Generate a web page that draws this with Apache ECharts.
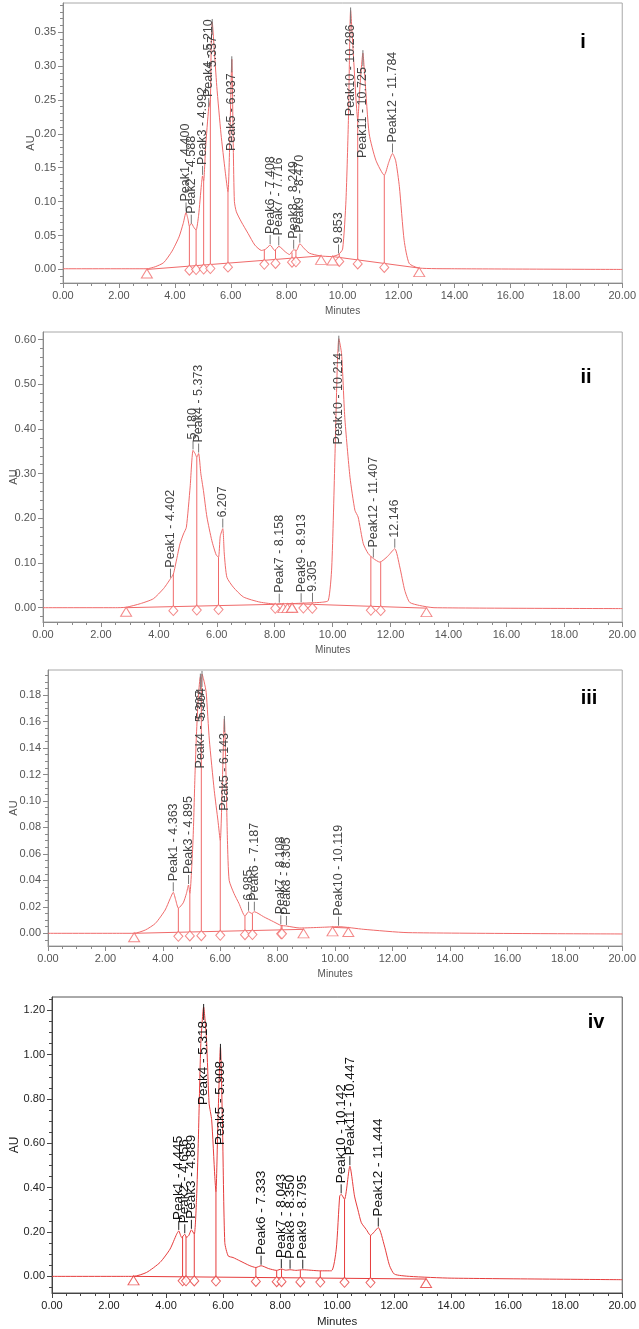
<!DOCTYPE html>
<html>
<head>
<meta charset="utf-8">
<script src="https://cdn.jsdelivr.net/npm/echarts@6/dist/echarts.min.js"></script>
<style>
  html, body { margin: 0; padding: 0; background: #fff; }
  #main { width: 639px; height: 1329px; }
</style>
</head>
<body>
<div id="main"></div>
<script>
// ---- panel i ----
const traceI = [[0,0.001],[2.5,0.001],[3.0,0.001],[3.3,0.004],[3.6,0.010],[3.9,0.027],[4.15,0.048],[4.3,0.068],[4.40,0.084],[4.47,0.074],[4.52,0.064],[4.59,0.068],[4.68,0.062],[4.76,0.058],[4.85,0.08],[4.95,0.125],[4.99,0.138],[5.03,0.13],[5.1,0.18],[5.21,0.238],[5.27,0.25],[5.30,0.33],[5.337,0.365],[5.4,0.33],[5.5,0.27],[5.65,0.20],[5.8,0.145],[5.9,0.114],[5.97,0.2],[6.037,0.31],[6.09,0.18],[6.13,0.10],[6.2,0.085],[6.38,0.07],[6.62,0.053],[6.86,0.036],[7.1,0.028],[7.25,0.03],[7.41,0.036],[7.57,0.028],[7.72,0.034],[7.95,0.026],[8.1,0.022],[8.25,0.029],[8.35,0.028],[8.47,0.038],[8.6,0.032],[8.81,0.024],[9.2,0.02],[9.6,0.019],[9.85,0.022],[10.0,0.03],[10.12,0.102],[10.21,0.225],[10.286,0.382],[10.38,0.32],[10.48,0.25],[10.54,0.22],[10.62,0.27],[10.725,0.319],[10.8,0.28],[10.95,0.20],[11.19,0.161],[11.49,0.139],[11.65,0.158],[11.784,0.171],[11.9,0.16],[12.03,0.122],[12.2,0.043],[12.38,0.009],[12.74,0.002],[14,0.001],[20,0.0]];
const namesI = ["Peak1 - 4.400","Peak2 - 4.588","Peak3 - 4.992","Peak4 - 5.210","5.337","Peak5 - 6.037","Peak6 - 7.408","Peak7 - 7.716","Peak8 - 8.249","Peak9 - 8.470","9.853","Peak10 - 10.286","Peak11 - 10.725","Peak12 - 11.784"];
const timesI = [4.400,4.588,4.992,5.210,5.337,6.037,7.408,7.716,8.249,8.470,9.853,10.286,10.725,11.784];
const heightsI = [0.084,0.066,0.138,0.238,0.365,0.31,0.036,0.034,0.029,0.038,0.022,0.382,0.319,0.171];
const dropsI = [[4.52,0.064],[4.76,0.058],[5.03,0.13],[5.27,0.25],[5.9,0.114],[7.2,0.029],[7.6,0.029],[8.19,0.025],[8.33,0.028],[9.88,0.023],[10.54,0.22],[11.49,0.139]];
const baseI = [[3.0,0.0,9.23,0.02],[9.64,0.019,12.74,0.002]];
const yTicksI = [0,0.05,0.10,0.15,0.20,0.25,0.30,0.35];

// ---- panel ii ----
const traceII = [[0,0.0],[2.5,0.0],[2.87,0.001],[3.36,0.009],[3.81,0.02],[4.16,0.0425],[4.30,0.055],[4.402,0.065],[4.5,0.075],[4.62,0.11],[4.73,0.143],[4.85,0.165],[4.95,0.18],[5.08,0.27],[5.18,0.352],[5.25,0.345],[5.31,0.337],[5.373,0.345],[5.45,0.30],[5.54,0.262],[5.66,0.203],[5.83,0.15],[5.98,0.118],[6.06,0.113],[6.12,0.16],[6.207,0.177],[6.26,0.12],[6.35,0.068],[6.57,0.046],[6.92,0.024],[7.49,0.0125],[8.07,0.008],[8.158,0.009],[8.5,0.009],[8.913,0.01],[9.305,0.011],[9.6,0.012],[9.85,0.016],[9.97,0.091],[10.08,0.337],[10.16,0.538],[10.214,0.602],[10.31,0.568],[10.42,0.426],[10.6,0.292],[10.77,0.218],[10.88,0.203],[11.06,0.143],[11.23,0.121],[11.407,0.11],[11.63,0.102],[11.9,0.115],[12.146,0.132],[12.32,0.091],[12.49,0.039],[12.66,0.012],[13.0,0.005],[13.5,0.0],[20,-0.002]];
const namesII = ["Peak1 - 4.402","5.180","Peak4 - 5.373","6.207","Peak7 - 8.158","Peak9 - 8.913","9.305","Peak10 - 10.214","Peak12 - 11.407","12.146"];
const timesII = [4.402,5.180,5.373,6.207,8.158,8.913,9.305,10.214,11.407,12.146];
const heightsII = [0.065,0.352,0.345,0.177,0.009,0.01,0.011,0.602,0.11,0.132];
const dropsII = [[4.5,0.075],[5.31,0.337],[6.06,0.113],[8.02,0.008],[8.99,0.01],[9.3,0.011],[11.32,0.115],[11.66,0.102]];
const baseII = [[2.87,0.0,8.3,0.008],[8.44,0.008,8.6,0.009],[8.6,0.009,13.24,-0.001]];
const yTicksII = [0,0.1,0.2,0.3,0.4,0.5,0.6];

// ---- panel iii ----
const traceIII = [[0,0.0],[2.5,0.0],[3.0,0.0],[3.39,0.0025],[3.74,0.0075],[4.08,0.0176],[4.25,0.026],[4.363,0.031],[4.45,0.025],[4.54,0.019],[4.71,0.023],[4.82,0.03],[4.895,0.0365],[4.94,0.03],[5.05,0.07],[5.12,0.12],[5.17,0.15],[5.24,0.18],[5.307,0.194],[5.34,0.19],[5.364,0.196],[5.44,0.19],[5.51,0.182],[5.62,0.146],[5.79,0.108],[5.92,0.085],[6.0,0.07],[6.08,0.12],[6.143,0.162],[6.2,0.12],[6.25,0.07],[6.31,0.04],[6.48,0.03],[6.65,0.0226],[6.86,0.013],[6.985,0.0163],[7.1,0.015],[7.187,0.0163],[7.51,0.0125],[7.85,0.0088],[8.108,0.006],[8.305,0.0055],[8.77,0.004],[9.5,0.0045],[10.119,0.005],[11,0.003],[12.54,0.0005],[20,-0.0005]];
const namesIII = ["Peak1 - 4.363","Peak3 - 4.895","Peak4 - 5.307","5.364","Peak5 - 6.143","6.985","Peak6 - 7.187","Peak7 - 8.108","Peak8 - 8.305","Peak10 - 10.119"];
const timesIII = [4.363,4.895,5.307,5.364,6.143,6.985,7.187,8.108,8.305,10.119];
const heightsIII = [0.031,0.0365,0.194,0.196,0.162,0.0163,0.0163,0.006,0.0055,0.005];
const dropsIII = [[4.54,0.019],[4.94,0.03],[5.34,0.19],[6.0,0.07],[6.86,0.013],[7.12,0.015],[8.12,0.006],[8.15,0.006]];
const baseIII = [[3.0,0.0,8.9,0.003],[9.91,0.0045,10.46,0.004]];
const yTicksIII = [0,0.02,0.04,0.06,0.08,0.10,0.12,0.14,0.16,0.18];

// ---- panel iv ----
const traceIV = [[0,0.0],[2.5,0.0],[2.86,0.0],[3.32,0.018],[3.79,0.063],[4.14,0.123],[4.37,0.19],[4.445,0.205],[4.55,0.175],[4.656,0.19],[4.72,0.176],[4.80,0.185],[4.889,0.21],[4.99,0.19],[5.07,0.35],[5.13,0.6],[5.22,1.05],[5.318,1.215],[5.42,1.065],[5.51,0.78],[5.6,0.706],[5.71,0.45],[5.75,0.38],[5.82,0.7],[5.908,1.035],[5.98,0.676],[6.06,0.153],[6.18,0.092],[6.35,0.085],[6.59,0.07],[6.94,0.048],[7.15,0.04],[7.333,0.048],[7.6,0.035],[7.88,0.027],[8.043,0.033],[8.2,0.028],[8.35,0.03],[8.55,0.027],[8.795,0.03],[9.39,0.025],[9.8,0.025],[9.97,0.123],[10.09,0.362],[10.142,0.37],[10.26,0.347],[10.447,0.497],[10.61,0.362],[10.73,0.30],[10.85,0.242],[11.02,0.212],[11.17,0.185],[11.444,0.22],[11.66,0.137],[11.84,0.048],[12.01,0.01],[12.54,0.0],[14,-0.008],[20,-0.015]];
const namesIV = ["Peak1 - 4.445","Peak2 - 4.656","Peak3 - 4.889","Peak4 - 5.318","Peak5 - 5.908","Peak6 - 7.333","Peak7 - 8.043","Peak8 - 8.350","Peak9 - 8.795","Peak10 - 10.142","Peak11 - 10.447","Peak12 - 11.444"];
const timesIV = [4.445,4.656,4.889,5.318,5.908,7.333,8.043,8.350,8.795,10.142,10.447,11.444];
const heightsIV = [0.205,0.19,0.21,1.215,1.035,0.048,0.033,0.03,0.03,0.37,0.497,0.22];
const dropsIV = [[4.58,0.178],[4.70,0.18],[4.99,0.19],[5.75,0.38],[7.15,0.04],[7.88,0.027],[8.05,0.033],[8.71,0.028],[9.41,0.025],[10.26,0.347],[11.17,0.185]];
const baseIV = [[2.86,0.0,13.12,-0.012]];
const yTicksIV = [0,0.2,0.4,0.6,0.8,1.0,1.2];

const xTicks = [0,2,4,6,8,10,12,14,16,18,20];

const measureCtx = document.createElement("canvas").getContext("2d");
function textWidth(txt, font) {
  measureCtx.font = font;
  return measureCtx.measureText(txt).width;
}

// baseline value under a given time
function baseAt(segs, t) {
  let s = segs[0];
  for (const seg of segs) {
    if (t >= seg[0] && t <= seg[2]) { s = seg; break; }
    if (t > seg[2]) s = seg;
  }
  const f = (t - s[0]) / (s[2] - s[0]);
  return s[1] + (s[3] - s[1]) * Math.max(0, Math.min(1, f));
}

function minorTicks(min, max, step) {
  const out = [];
  for (let v = Math.ceil(min / step - 1e-9) * step; v <= max + 1e-9; v += step) out.push(+v.toFixed(4));
  return out;
}

const panels = [
  { trace: traceI, names: namesI, times: timesI, heights: heightsI, drops: dropsI, base: baseI, yTicks: yTicksI,
    grid: { left: 63, top: 3, width: 560, height: 280 }, yMin: -0.02, yMax: 0.393, minor: 0.01,
    auGap: 27, tag: "i", tagPos: [583, 42] },
  { trace: traceII, names: namesII, times: timesII, heights: heightsII, drops: dropsII, base: baseII, yTicks: yTicksII,
    grid: { left: 43, top: 332, width: 580, height: 290 }, yMin: -0.032, yMax: 0.617, minor: 0.02,
    auGap: 24, tag: "ii", tagPos: [586, 377] },
  { trace: traceIII, names: namesIII, times: timesIII, heights: heightsIII, drops: dropsIII, base: baseIII, yTicks: yTicksIII,
    grid: { left: 44, top: 670, width: 583, height: 276 }, yMin: -0.0096, yMax: 0.199, minor: 0.005,
    auGap: 29, tag: "iii", tagPos: [589, 698] },
  { trace: traceIV, names: namesIV, times: timesIV, heights: heightsIV, drops: dropsIV, base: baseIV, yTicks: yTicksIV,
    grid: { left: 52, top: 997, width: 571, height: 297 }, yMin: -0.075, yMax: 1.26, minor: 0.05,
    auGap: 31, tag: "iv", tagPos: [596, 1022] }
];

const grids = [], xAxes = [], yAxes = [], minorAxes = [], series = [], graphics = [];

panels.forEach(function (p, k) {
  const sharp = k === 3;
  const axisColor = sharp ? "#444" : "#8a8a8a";
  const textColor = sharp ? "#222" : "#555";
  const red = sharp ? "#e63c3c" : "#f06a6a";
  const labelFont = sharp ? "13.5px 'Liberation Sans', Arial, sans-serif" : "12.5px 'Liberation Sans', Arial, sans-serif";

  grids.push(Object.assign({ show: true, borderColor: sharp ? "#555" : "#a8a8a8", borderWidth: 1, backgroundColor: "transparent" }, p.grid));

  xAxes.push({
    type: "value", gridIndex: k, min: 0, max: 20, interval: 2,
    axisLine: { show: true, onZero: false, lineStyle: { color: axisColor } },
    axisTick: { length: 5, lineStyle: { color: axisColor } },
    minorTick: { show: true, splitNumber: 4, length: 3, lineStyle: { color: axisColor } },
    axisLabel: { customValues: xTicks, formatter: v => v.toFixed(2), fontSize: 11, color: textColor, margin: 7, fontFamily: "Liberation Sans" },
    splitLine: { show: false },
    name: "Minutes", nameLocation: "middle", nameGap: 23, nameMoveOverlap: false,
    nameTextStyle: { fontSize: sharp ? 11.5 : 10, color: textColor, fontFamily: "Liberation Sans" }
  });

  yAxes.push({
    type: "value", gridIndex: k, position: "left", min: p.yMin, max: p.yMax,
    axisLine: { show: true, onZero: false, lineStyle: { color: axisColor } },
    axisTick: { customValues: p.yTicks, length: 5, lineStyle: { color: axisColor } },
    axisLabel: { customValues: p.yTicks, formatter: v => v.toFixed(2), fontSize: 11, color: textColor, margin: 7, fontFamily: "Liberation Sans" },
    splitLine: { show: false },
    name: "AU", nameLocation: "middle", nameGap: p.auGap, nameRotate: 90, nameMoveOverlap: false,
    nameTextStyle: { fontSize: sharp ? 12 : 11, color: textColor, fontFamily: "Liberation Sans" }
  });

  minorAxes.push({
    type: "value", gridIndex: k, position: "left", min: p.yMin, max: p.yMax,
    axisLine: { show: false },
    axisTick: { customValues: minorTicks(p.yMin, p.yMax, p.minor), length: 3, lineStyle: { color: axisColor } },
    axisLabel: { show: false },
    splitLine: { show: false }
  });

  // chromatogram trace
  series.push({
    type: "line", xAxisIndex: k, yAxisIndex: k, data: p.trace,
    showSymbol: false, smooth: 0.2, silent: true,
    lineStyle: { color: red, width: 1 }, z: 3
  });

  // integration baselines + drop lines
  const segs = p.base.map(s => s.slice()).concat(p.drops.map(d => [d[0], baseAt(p.base, d[0]), d[0], d[1]]));
  series.push({
    type: "custom", xAxisIndex: k, yAxisIndex: k, silent: true, data: segs, z: 2,
    renderItem: function (params, api) {
      const a = api.coord([api.value(0), api.value(1)]);
      const b = api.coord([api.value(2), api.value(3)]);
      return { type: "line", shape: { x1: a[0], y1: a[1], x2: b[0], y2: b[1] }, style: { stroke: red, lineWidth: 1 } };
    }
  });

  // drop markers (diamonds) and baseline ends (triangles)
  series.push({
    type: "scatter", xAxisIndex: k, yAxisIndex: k, silent: true, z: 4,
    data: p.drops.map(d => [d[0], baseAt(p.base, d[0])]),
    symbol: "diamond", symbolSize: [9, 10], symbolOffset: [0, 4],
    itemStyle: { color: "#fff", borderColor: red, borderWidth: 1 }
  });
  series.push({
    type: "scatter", xAxisIndex: k, yAxisIndex: k, silent: true, z: 4,
    data: p.base.flatMap(s => [[s[0], s[1]], [s[2], s[3]]]),
    symbol: "triangle", symbolSize: [11, 9], symbolOffset: [0, 4],
    itemStyle: { color: "#fff", borderColor: red, borderWidth: 1 }
  });

  // peak labels: vertical text with a short tick at the apex
  series.push({
    type: "custom", xAxisIndex: k, yAxisIndex: k, silent: true, z: 5, clip: false,
    data: p.times.map((t, i) => [t, p.heights[i]]),
    renderItem: function (params, api) {
      const pt = api.coord([api.value(0), api.value(1)]);
      const name = p.names[params.dataIndex];
      const w = textWidth(name, labelFont);
      const top = params.coordSys.y;
      let y1, y2, anchor, align;
      if (pt[1] - 11 - w < top + 2) {
        // not enough room above: hang the text below the apex
        y1 = pt[1] - 3; y2 = pt[1] + 13; anchor = pt[1] + 14; align = "right";
      } else {
        y1 = pt[1] - 1; y2 = pt[1] - 10; anchor = pt[1] - 11; align = "left";
      }
      return {
        type: "group",
        children: [
          { type: "line", shape: { x1: pt[0], y1: y1, x2: pt[0], y2: y2 }, style: { stroke: sharp ? "#222" : "#777", lineWidth: 1 } },
          { type: "text", x: pt[0], y: anchor, rotation: Math.PI / 2,
            style: { text: name, x: 0, y: 0, font: labelFont, fill: sharp ? "#111" : "#444", align: align, verticalAlign: "middle" } }
        ]
      };
    }
  });

  graphics.push({
    type: "text", x: p.tagPos[0], y: p.tagPos[1],
    style: { text: p.tag, font: "bold 20px 'Liberation Sans', Arial, sans-serif", fill: "#000", align: "center", verticalAlign: "middle" }
  });
});

const chart = echarts.init(document.getElementById("main"), null, { renderer: "canvas" });
chart.setOption({
  animation: false,
  backgroundColor: "#fff",
  grid: grids,
  xAxis: xAxes,
  yAxis: yAxes.concat(minorAxes),
  series: series,
  graphic: graphics
});
</script>
</body>
</html>
